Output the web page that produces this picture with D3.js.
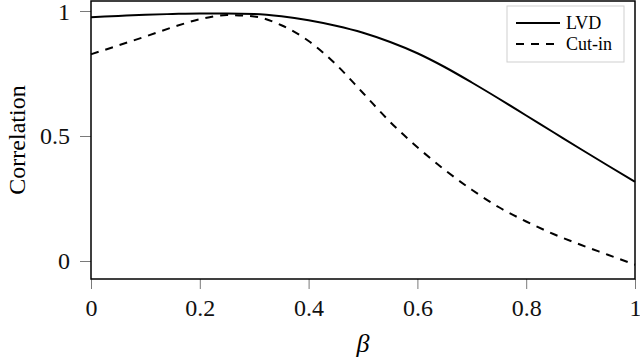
<!DOCTYPE html>
<html>
<head>
<meta charset="utf-8">
<script src="https://cdn.jsdelivr.net/npm/d3@7"></script>
<style>
  body { margin: 0; background: #fff; }
  text { font-family: "Liberation Serif", "Times New Roman", serif; }
</style>
</head>
<body>
<svg id="chart" width="640" height="359"></svg>
<script>
// beta values along the x axis
const betas = [0, 0.05, 0.1, 0.15, 0.2, 0.25, 0.3, 0.35, 0.4, 0.45, 0.5,
  0.55, 0.6, 0.65, 0.7, 0.75, 0.8, 0.85, 0.9, 0.95, 1];
const lvd = [0.975, 0.980, 0.985, 0.988, 0.990, 0.990, 0.988, 0.979, 0.963, 0.941, 0.913,
  0.876, 0.831, 0.776, 0.714, 0.649, 0.582, 0.515, 0.448, 0.382, 0.317];
const cutIn = [0.827, 0.862, 0.898, 0.935, 0.967, 0.984, 0.978, 0.943, 0.880, 0.787, 0.672,
  0.556, 0.455, 0.365, 0.285, 0.215, 0.158, 0.108, 0.065, 0.025, -0.015];
const xTicks = [0, 0.2, 0.4, 0.6, 0.8, 1];
const yTicks = [0, 0.5, 1];
const seriesNames = ['LVD', 'Cut-in'];

const svg = d3.select('#chart');
const width = 640;
const height = 359;
const margin = { top: 1, right: 5, bottom: 80, left: 91 };
const serif = '"Liberation Serif", "Times New Roman", serif';

const x = d3.scaleLinear()
  .domain([0, 1])
  .range([margin.left, width - margin.right]);

const y = d3.scaleLinear()
  .domain([-0.072, 1.04])
  .range([height - margin.bottom, margin.top]);

// x axis
const xAxis = svg.append('g')
  .attr('transform', `translate(0,${height - margin.bottom})`)
  .call(d3.axisBottom(x).tickValues(xTicks).tickFormat(d => String(d)).tickSize(10).tickPadding(10));
xAxis.attr('font-family', serif).attr('font-size', 24);
xAxis.select('.domain').remove();
xAxis.selectAll('line').attr('stroke', '#7a7a7a');
xAxis.selectAll('text').attr('fill', '#111');

// y axis
const yAxis = svg.append('g')
  .attr('transform', `translate(${margin.left},0)`)
  .call(d3.axisLeft(y).tickValues(yTicks).tickFormat(d => String(d)).tickSize(11).tickPadding(10));
yAxis.attr('font-family', serif).attr('font-size', 24);
yAxis.select('.domain').remove();
yAxis.selectAll('line').attr('stroke', '#7a7a7a');
yAxis.selectAll('text').attr('fill', '#111');
yAxis.selectAll('.tick').filter(d => d === 1).select('text').attr('dy', '0.36em');

// frame
svg.append('rect')
  .attr('x', x(0))
  .attr('y', y(1.04))
  .attr('width', x(1) - x(0))
  .attr('height', y(-0.072) - y(1.04))
  .attr('fill', 'none')
  .attr('stroke', '#000')
  .attr('stroke-width', 1.5);

// curves
const line = d3.line()
  .x(d => x(d[0]))
  .y(d => y(d[1]))
  .curve(d3.curveMonotoneX);

svg.append('path')
  .datum(betas.map((b, i) => [b, lvd[i]]))
  .attr('d', line)
  .attr('fill', 'none')
  .attr('stroke', '#000')
  .attr('stroke-width', 2);

svg.append('path')
  .datum(betas.map((b, i) => [b, cutIn[i]]))
  .attr('d', line)
  .attr('fill', 'none')
  .attr('stroke', '#000')
  .attr('stroke-width', 2)
  .attr('stroke-dasharray', '8,7');

// axis titles
svg.append('text')
  .attr('x', 363)
  .attr('y', 352)
  .attr('text-anchor', 'middle')
  .attr('font-size', 26)
  .attr('font-style', 'italic')
  .text('β');

svg.append('text')
  .attr('transform', 'translate(25,140) rotate(-90)')
  .attr('text-anchor', 'middle')
  .attr('font-size', 24)
  .text('Correlation');

// legend
const legend = svg.append('g');
legend.append('rect')
  .attr('x', 507)
  .attr('y', 6)
  .attr('width', 117)
  .attr('height', 56)
  .attr('fill', '#fff')
  .attr('stroke', '#cfcfcf');

seriesNames.forEach((name, i) => {
  const ly = 23 + i * 21;
  legend.append('line')
    .attr('x1', 516).attr('x2', 560)
    .attr('y1', ly).attr('y2', ly)
    .attr('stroke', '#000')
    .attr('stroke-width', 2)
    .attr('stroke-dasharray', i === 1 ? '8,7' : null);
  legend.append('text')
    .attr('x', 566)
    .attr('y', ly + 6)
    .attr('font-size', 18)
    .text(name);
});
</script>
</body>
</html>
